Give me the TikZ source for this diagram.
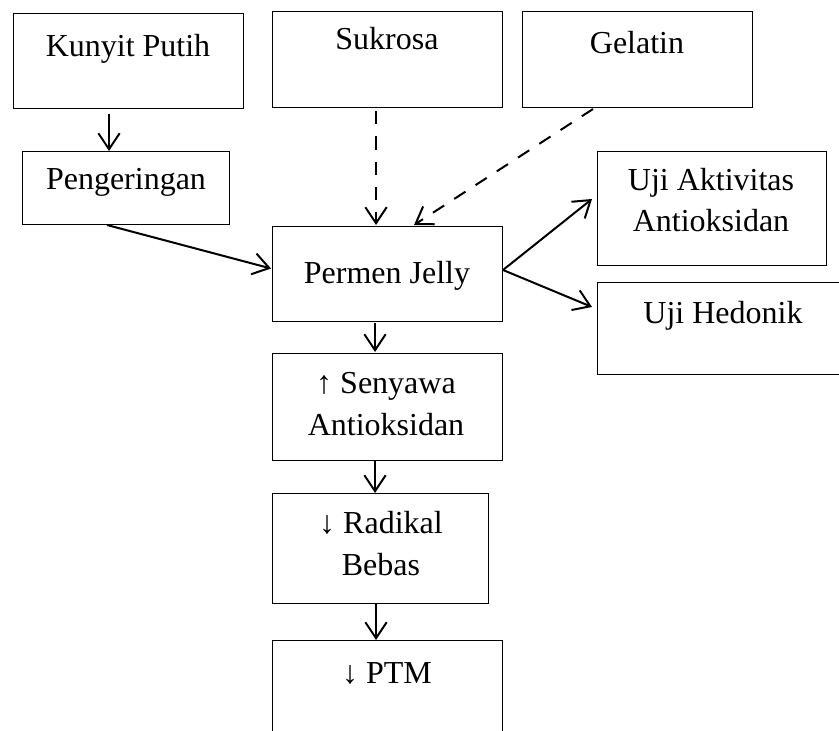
\documentclass[tikz,border=0pt]{standalone}
\usepackage{fontspec}
\setmainfont{Liberation Serif}
\usepackage{tikz}
\usetikzlibrary{arrows.meta, positioning, calc}
\tikzstyle{box} = [rectangle, draw=black, line width=0.75pt, anchor=north west, inner sep=0pt]
\tikzstyle{txt} = [align=center, inner sep=0pt, anchor=base]
\tikzstyle{arrow} = [line width=1.5pt, -{Straight Barb[length=12pt, width=16pt]}]
\tikzstyle{dasharrow} = [arrow, dash pattern=on 10pt off 9pt]

\begin{document}
\begin{tikzpicture}[x=0.75pt, y=-0.75pt, font=\fontsize{24}{31.5}\selectfont]
  \useasboundingbox (0,0) rectangle (839,731);
  \clip (0,0) rectangle (839,731);

  % boxes
  \node[box, minimum width=172.5pt, minimum height=71.25pt](kunyit) at (13,13){};
  \node[box, minimum width=155.25pt, minimum height=54.75pt](pengeringan) at (22,151){};
  \node[box, minimum width=172.5pt, minimum height=72pt](sukrosa) at (272,11){};
  \node[box, minimum width=172.5pt, minimum height=72pt](gelatin) at (522,11){};
  \node[box, minimum width=172.5pt, minimum height=71.25pt](permen) at (272,226){};
  \node[box, minimum width=171.75pt, minimum height=85.5pt](ujiakt) at (597,151){};
  \node[box, minimum width=195pt, minimum height=69pt](ujihed) at (597,282){};
  \node[box, minimum width=172.5pt, minimum height=80.25pt](senyawa) at (272,353){};
  \node[box, minimum width=162pt, minimum height=82.5pt](radikal) at (272,493){};
  \node[box, minimum width=172.5pt, minimum height=97.5pt](ptm) at (272,640){};

  % texts (base = last line)
  \node[txt](kunyitT) at (128,57){Kunyit Putih};
  \node[txt](sukrosaT) at (387,50){Sukrosa};
  \node[txt](gelatinT) at (637,54){Gelatin};
  \node[txt](pengeringanT) at (126,190){Pengeringan};
  \node[txt](permenT) at (387,283){Permen Jelly};
  \node[txt](ujiaktT) at (711,232){Uji Aktivitas\\Antioksidan};
  \node[txt](ujihedT) at (723,323){Uji Hedonik};
  \node[txt](senyawaT) at (386,435){↑ Senyawa\\Antioksidan};
  \node[txt](radikalT) at (381,575){↓ Radikal\\Bebas};
  \node[txt](ptmT) at (387,683){↓ PTM};

  % connectors
  \draw[arrow]($(kunyit.south west)+(96,5)$)--($(pengeringan.north west)+(87,0)$);
  \draw[dasharrow]($(sukrosa.south west)+(104,3)$)--($(permen.north west)+(104,-1)$);
  \draw[dasharrow]($(gelatin.south west)+(71,1)$)--($(permen.north west)+(142,-1)$);
  \draw[arrow]($(pengeringan.south west)+(85,0)$)--($(permen.west)+(-1,-5.5)$);
  \draw[arrow]($(permen.east)+(0,-4)$)--($(ujiakt.south west)+(-5,-67)$);
  \draw[arrow]($(permen.east)+(0,-4)$)--($(ujihed.north west)+(-5,25)$);
  \draw[arrow]($(permen.south west)+(103,1)$)--($(senyawa.north west)+(103,-1)$);
  \draw[arrow]($(senyawa.south west)+(103,0)$)--($(radikal.north west)+(103,0)$);
  \draw[arrow]($(radikal.south west)+(104,0)$)--($(ptm.north west)+(104,0)$);
\end{tikzpicture}
\end{document}
